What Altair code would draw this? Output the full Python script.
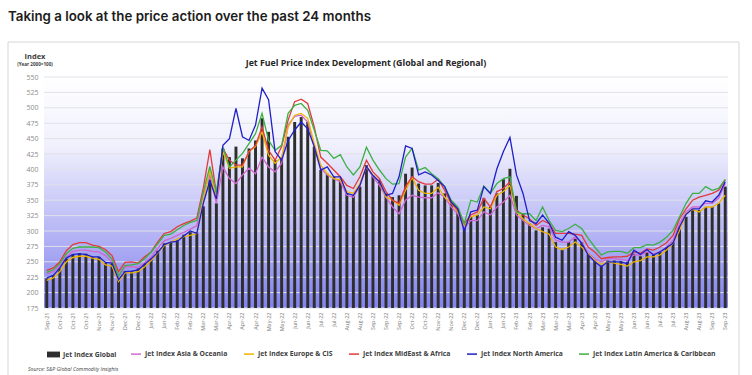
import altair as alt
import pandas as pd

# ---------------- data ----------------
start_date = "2021-09-17"
n_weeks = 105
dates = [d.strftime("%Y-%m-%d") for d in pd.date_range(start_date, periods=n_weeks, freq="7D")]

global_idx = [223, 228, 239, 255, 262, 264, 263, 258, 258, 248, 247, 222, 235, 235, 239, 248, 255, 268, 280, 282,
              285, 294, 298, 297, 340, 383, 345, 434, 420, 437, 418, 434, 447, 483, 461, 415, 420, 453, 477, 485,
              477, 437, 399, 393, 388, 385, 361, 358, 372, 407, 390, 383, 361, 355, 358, 393, 403, 377, 374, 374,
              378, 361, 345, 336, 312, 323, 326, 353, 339, 361, 384, 401, 357, 329, 312, 301, 306, 304, 282, 269,
              282, 290, 282, 263, 252, 244, 252, 252, 251, 250, 263, 259, 266, 261, 266, 274, 282, 307, 323, 334,
              334, 339, 339, 345, 372]

asia = [231, 234, 243, 258, 267, 269, 269, 267, 266, 260, 249, 225, 242, 242, 241, 249, 258, 272, 284, 288,
        293, 298, 303, 309, 361, 391, 345, 404, 385, 377, 391, 402, 393, 420, 404, 396, 410, 472, 486, 488,
        477, 437, 402, 391, 385, 380, 358, 355, 374, 404, 388, 374, 355, 339, 328, 350, 358, 355, 354, 354,
        362, 355, 339, 328, 306, 317, 317, 331, 326, 339, 347, 358, 326, 317, 309, 304, 309, 307, 285, 282,
        282, 290, 282, 264, 255, 250, 255, 255, 254, 252, 261, 261, 266, 263, 266, 274, 285, 312, 331, 339,
        339, 345, 345, 353, 377]

europe = [220, 224, 234, 250, 257, 259, 259, 256, 254, 245, 243, 218, 232, 232, 234, 242, 252, 264, 276, 282,
          287, 291, 293, 296, 350, 399, 352, 429, 402, 404, 404, 429, 437, 461, 423, 410, 420, 469, 488, 491,
          483, 442, 407, 393, 385, 383, 364, 361, 377, 405, 391, 380, 355, 350, 342, 366, 387, 366, 361, 361,
          371, 355, 345, 331, 309, 323, 326, 339, 336, 358, 364, 374, 331, 320, 312, 304, 299, 295, 274, 270,
          274, 282, 274, 263, 252, 246, 250, 248, 246, 243, 250, 252, 258, 258, 261, 269, 280, 301, 328, 335,
          331, 339, 339, 345, 358]

mideast = [236, 240, 250, 268, 278, 281, 281, 277, 275, 270, 260, 234, 249, 250, 248, 258, 266, 282, 296, 299,
           307, 312, 316, 321, 370, 432, 361, 434, 415, 407, 407, 429, 439, 469, 431, 415, 437, 480, 510, 514,
           507, 469, 420, 410, 399, 388, 374, 369, 388, 415, 396, 385, 364, 350, 345, 372, 388, 380, 376, 376,
           384, 366, 345, 334, 312, 326, 331, 353, 339, 364, 369, 380, 334, 326, 320, 309, 317, 312, 296, 296,
           296, 295, 293, 274, 266, 255, 257, 258, 258, 259, 266, 264, 271, 269, 274, 281, 293, 320, 336, 350,
           355, 358, 361, 366, 383]

namerica = [224, 228, 240, 256, 262, 263, 262, 258, 258, 249, 248, 221, 234, 235, 237, 246, 255, 265, 278, 282,
            283, 292, 300, 296, 345, 382, 352, 439, 450, 499, 453, 447, 472, 532, 513, 429, 415, 447, 464, 477,
            466, 437, 399, 404, 388, 388, 361, 358, 374, 405, 390, 380, 358, 361, 388, 438, 434, 391, 396, 391,
            382, 372, 347, 336, 300, 331, 334, 372, 361, 401, 429, 452, 391, 361, 317, 312, 326, 313, 290, 285,
            299, 293, 280, 261, 250, 242, 250, 250, 250, 247, 269, 262, 270, 261, 266, 273, 280, 307, 327, 336,
            336, 349, 347, 358, 380]

latam = [233, 237, 247, 263, 272, 274, 274, 274, 273, 266, 254, 227, 244, 245, 247, 255, 266, 279, 293, 295,
         302, 309, 314, 317, 364, 405, 362, 436, 404, 415, 426, 442, 458, 491, 447, 431, 439, 491, 504, 507,
         496, 464, 431, 430, 418, 424, 404, 391, 404, 436, 415, 399, 385, 376, 377, 420, 434, 399, 403, 393,
         385, 372, 350, 339, 312, 350, 347, 373, 361, 377, 385, 388, 331, 328, 328, 317, 339, 317, 301, 299,
         304, 311, 304, 288, 274, 261, 266, 267, 267, 264, 273, 273, 278, 277, 282, 290, 301, 323, 345, 361,
         361, 372, 366, 369, 384]

global_name = "Jet Index Global"
series_names = ["Jet Index Asia & Oceania", "Jet Index Europe & CIS", "Jet Index MidEast & Africa",
                "Jet Index North America", "Jet Index Latin America & Caribbean"]
series_colors = ["#d068d0", "#f0b400", "#e23a3a", "#1f1fc8", "#3cb043"]
draw_order = ["Jet Index Asia & Oceania", "Jet Index Europe & CIS", "Jet Index MidEast & Africa",
              "Jet Index Latin America & Caribbean", "Jet Index North America"]
series_values = {
    "Jet Index Asia & Oceania": asia,
    "Jet Index Europe & CIS": europe,
    "Jet Index MidEast & Africa": mideast,
    "Jet Index North America": namerica,
    "Jet Index Latin America & Caribbean": latam,
}

y_ticks = list(range(175, 551, 25))
x_label_dates = dates[::2]

page_title = "Taking a look at the price action over the past 24 months"
chart_title = "Jet Fuel Price Index Development (Global and Regional)"
axis_title = "Index"
axis_subtitle = "(Year 2000=100)"
source_note = "Source: S&P Global Commodity Insights"

# ---------------- frames ----------------
bars_df = pd.DataFrame({"date": dates, "value": global_idx, "kind": global_name})
lines_df = pd.concat(
    [pd.DataFrame({"date": dates, "value": series_values[s], "series": s, "order": k})
     for k, s in enumerate(draw_order)],
    ignore_index=True,
)
ticks_df = pd.DataFrame({"tick": y_ticks})

W, H = 684, 231
LEFT, TOP = 44, 77

x_axis = alt.Axis(
    values=x_label_dates,
    labelExpr="utcFormat(toDate(datum.value), '%b-%y')",
    labelAngle=270,
    labelFontSize=5.5,
    labelFont="Open Sans",
    labelColor="#7a7a7a",
    labelPadding=4,
    labelOverlap=False,
    domain=False,
    ticks=False,
    grid=False,
    title=None,
)
x_scale = alt.Scale(paddingInner=0.55, paddingOuter=0.2)
y_scale = alt.Scale(domain=[175, 550], nice=False, zero=False)
y_axis = alt.Axis(
    values=y_ticks,
    labelFontSize=7,
    labelFont="Open Sans",
    labelColor="#8c8c8c",
    labelPadding=6,
    labelOverlap=False,
    labelBound=False,
    domain=False,
    ticks=False,
    grid=False,
    title=None,
)

one = pd.DataFrame({"a": [0]})
plot_bg = alt.Chart(one).mark_rect(
    fill=alt.LinearGradient(
        gradient="linear",
        stops=[
            alt.GradientStop(offset=0, color="#ffffff"),
            alt.GradientStop(offset=0.3, color="#f0f0fd"),
            alt.GradientStop(offset=1, color="#8282ee"),
        ],
        x1=0, x2=0, y1=0, y2=1,
    )
).encode(x=alt.value(0), x2=alt.value(W), y=alt.value(0), y2=alt.value(H))

grid = alt.Chart(ticks_df).mark_rule(color="#e0e0ea", strokeWidth=1).encode(
    x=alt.value(0), x2=alt.value(W), y=alt.Y("tick:Q", scale=y_scale, axis=y_axis)
)

bars = alt.Chart(bars_df).mark_bar(clip=True).encode(
    x=alt.X("date:O", sort=dates, scale=x_scale, axis=x_axis),
    y=alt.Y("value:Q", scale=y_scale, axis=y_axis),
    y2=alt.datum(175),
    fill=alt.Fill(
        "kind:N",
        scale=alt.Scale(domain=[global_name], range=["#2e2e2e"]),
        legend=alt.Legend(
            orient="none", legendX=3, legendY=271, direction="horizontal", title=None,
            symbolType="M-1,-0.45H1V0.45H-1Z", symbolSize=169, symbolStrokeWidth=0,
            labelFont="Open Sans", labelFontSize=6.8, labelFontWeight="bold", labelColor="#404040",
            labelOffset=3, padding=0,
        ),
    ),
)

lines = alt.Chart(lines_df).mark_line(strokeWidth=1.3, clip=True).encode(
    x=alt.X("date:O", sort=dates, scale=x_scale, axis=x_axis),
    y=alt.Y("value:Q", scale=y_scale, axis=y_axis),
    stroke=alt.Stroke(
        "series:N",
        scale=alt.Scale(domain=series_names, range=series_colors),
        legend=alt.Legend(
            orient="none", legendX=86, legendY=271, direction="horizontal", title=None,
            symbolType="stroke", symbolSize=100, symbolStrokeWidth=1.5,
            labelFont="Open Sans", labelFontSize=6.8, labelFontWeight="bold", labelColor="#404040",
            labelOffset=3, columnPadding=13, padding=0,
        ),
    ),
    order=alt.Order("order:Q"),
)

box = alt.Chart(one).mark_rect(filled=False, stroke="#d6d6d6", strokeWidth=1).encode(
    x=alt.value(8 - LEFT), x2=alt.value(739 - LEFT), y=alt.value(42 - TOP), y2=alt.value(420)
)


def label(text, x, y, size, weight="normal", align="left", font="Open Sans", color="#404040", style="normal"):
    return alt.Chart(pd.DataFrame({"t": [text]})).mark_text(
        align=align, baseline="alphabetic", fontSize=size, fontWeight=weight, font=font,
        color=color, fontStyle=style,
    ).encode(x=alt.value(x - LEFT), y=alt.value(y - TOP), text="t:N")


texts = [
    label(page_title, 8, 21, 13.3, weight=600, font="Inter", color="#1c1c1c"),
    label(chart_title, 366, 66, 8.8, weight="bold", align="center", color="#262626"),
    label(axis_title, 35, 59, 7.5, weight="bold", align="center", color="#404040"),
    label(axis_subtitle, 35, 66, 4.6, weight="bold", align="center", color="#404040"),
    label(source_note, 28, 371, 5.2, style="italic", color="#404040"),
]

chart = alt.layer(box, plot_bg, grid, bars, lines, *texts).properties(
    width=W, height=H,
    autosize=alt.AutoSizeParams(type="none"),
    padding={"left": LEFT, "top": TOP, "right": 752 - LEFT - W, "bottom": 375 - TOP - H},
    background="white",
).configure_view(
    strokeWidth=0,
).configure_axis(
    labelOverlap=False,
).resolve_scale(fill="independent", stroke="independent")

chart.save("out.html", embed_options={"renderer": "svg", "actions": False})
